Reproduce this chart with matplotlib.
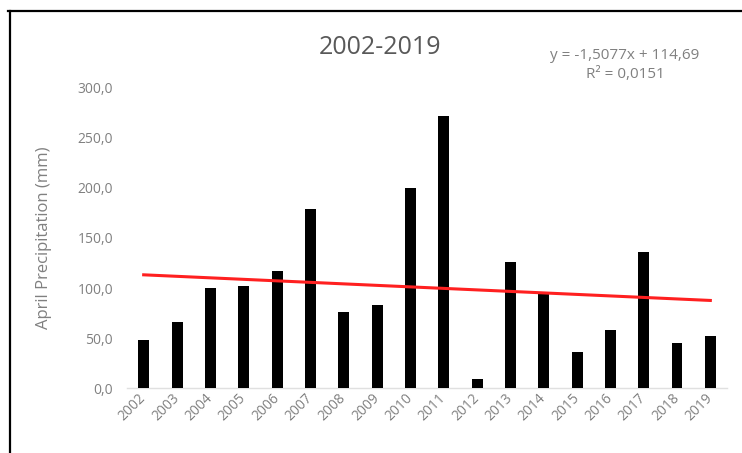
import matplotlib
matplotlib.use("Agg")
import matplotlib.pyplot as plt
from matplotlib.lines import Line2D
import numpy as np

years = ["2002", "2003", "2004", "2005", "2006", "2007", "2008", "2009", "2010",
         "2011", "2012", "2013", "2014", "2015", "2016", "2017", "2018", "2019"]
precip = [48, 66, 100, 102, 117, 179, 76, 83, 200,
          272, 9, 126, 95, 36, 58, 136, 45, 52]
trend_slope = -1.5077
trend_intercept = 114.69
y_ticks = [0, 50, 100, 150, 200, 250, 300]
y_tick_labels = ["0,0", "50,0", "100,0", "150,0", "200,0", "250,0", "300,0"]
title = "2002-2019"
eq_text = "y = -1,5077x + 114,69\nR² = 0,0151"
y_label = "April Precipitation (mm)"

plt.rcParams['font.family'] = ['Open Sans', 'DejaVu Sans']
gray = '#808080'

W, H = 742, 453
fig = plt.figure(figsize=(W / 100, H / 100), dpi=100)
ax = fig.add_axes([127 / W, (H - 388) / H, 600 / W, 300 / H])

x = np.arange(len(years))
ax.bar(x, precip, width=0.33, color='black', zorder=3)

xs = np.arange(1, len(years) + 1)
trend = trend_slope * xs + trend_intercept
ax.plot(x, trend, color='#ff2020', lw=2.2, zorder=4)

ax.set_xlim(-0.5, len(years) - 0.5)
ax.set_ylim(0, 300)
ax.set_yticks(y_ticks)
ax.set_yticklabels(y_tick_labels)
ax.set_xticks(x)
ax.set_xticklabels(years, rotation=45, ha='right', va='center', rotation_mode='anchor')
ax.tick_params(axis='y', length=0, pad=10, labelsize=10, labelcolor=gray)
ax.tick_params(axis='x', length=0, pad=6, labelsize=10, labelcolor=gray)
for s in ['top', 'right', 'left']:
    ax.spines[s].set_visible(False)
ax.spines['bottom'].set_color('#e0e0e0')
ax.spines['bottom'].set_linewidth(1)
ax.set_ylabel(y_label, fontsize=12, color=gray)
ax.yaxis.set_label_coords((52 - 127) / 600, 0.5)

fig.text(380 / W, 1 - 47 / H, title, ha='center', va='center', fontsize=18, color='#595959')
fig.text(625 / W, 1 - 65 / H, eq_text, ha='center', va='center', fontsize=11,
         color=gray, linespacing=1.45)

fig.add_artist(Line2D([8 / W, 1], [1 - 11 / H, 1 - 11 / H], color='black', lw=1.6,
                      transform=fig.transFigure))
fig.add_artist(Line2D([10 / W, 10 / W], [0, 1 - 11 / H], color='black', lw=1.6,
                      transform=fig.transFigure))

fig.savefig("out.png", dpi=100)
